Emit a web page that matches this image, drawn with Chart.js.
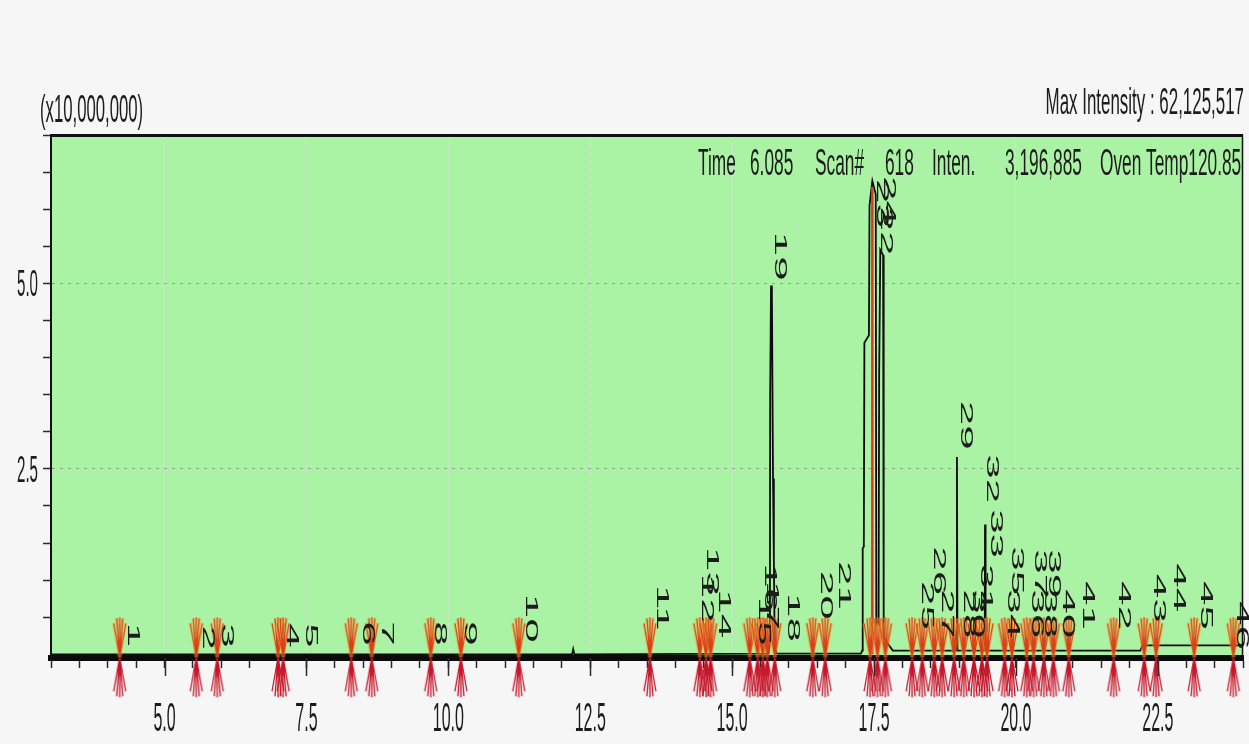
<!DOCTYPE html>
<html>
<head>
<meta charset="utf-8">
<title>TIC chromatogram</title>
<script src="https://cdn.jsdelivr.net/npm/chart.js@4/dist/chart.umd.min.js"></script>
<style>
  html, body { margin: 0; padding: 0; background: #f6f6f6; }
  #tic { display: block; }
</style>
</head>
<body>
<canvas id="tic" width="1249" height="744"></canvas>
<script>
// total ion chromatogram, retention time (min) vs intensity (x10,000,000)
const traceTimes  = [3.0, 12.18, 12.2, 12.22, 15.64, 15.665, 15.67, 15.685, 15.70, 15.72, 15.735, 15.75, 15.78,
                     17.27, 17.29, 17.30, 17.32, 17.33, 17.41, 17.42, 17.47, 17.53, 17.54, 17.58, 17.59, 17.61,
                     17.66, 17.67, 17.83, 18.955, 18.96, 18.97, 19.45, 19.455, 19.465, 22.19, 22.23, 24.0];
const traceIntens = [0.0, 0.0, 0.07, 0.0, 0.01, 0.15, 3.5, 4.97, 4.9, 2.37, 1.26, 0.1, 0.01,
                     0.01, 0.05, 1.43, 1.45, 4.2, 4.3, 6.05, 6.38, 6.2, 0.4, 0.4, 3.77, 5.45,
                     5.38, 0.22, 0.05, 0.05, 2.66, 0.05, 0.05, 1.75, 0.05, 0.05, 0.12, 0.12];

// red cursor through the main peak
const cursorTimes  = [17.47, 17.47];
const cursorIntens = [0.0, 6.3];

// integration start / end markers
const markerTimes = [4.21, 5.56, 5.93, 7.00, 7.09, 8.29, 8.65, 9.69, 10.22, 11.24, 13.55,
                     14.43, 14.54, 14.62, 15.31, 15.45, 15.54, 15.62, 15.75, 16.42, 16.64,
                     17.43, 17.56, 17.70, 18.17, 18.35, 18.56, 18.70, 18.91, 19.08, 19.26,
                     19.40, 19.49, 19.80, 19.93, 20.19, 20.31, 20.49, 20.66, 20.93, 21.72,
                     22.26, 22.47, 23.14, 23.83];

// peak numbers and where each label ends (time, intensity)
const peakNumbers = ['1','2','3','4','5','6','7','8','9','10','11','12','13','14','15','16','17','18','19','20',
                     '21','22','23','24','25','26','27','28','29','30','31','32','33','34','35','36','37','38','39','40',
                     '41','42','43','44','45','46'];
const peakLabelTimes = [4.335, 5.669, 6.003, 7.144, 7.478, 8.478, 8.812, 9.743, 10.27, 11.358, 13.658, 14.449, 14.537,
                        14.747, 15.45, 15.555, 15.59, 15.96, 15.73, 16.556, 16.872, 17.60, 17.54, 17.66, 18.33, 18.54,
                        18.68, 19.07, 19.01, 19.22, 19.37, 19.47, 19.54, 19.84, 19.91, 20.26, 20.31, 20.49, 20.56,
                        20.82, 21.16, 21.79, 22.42, 22.77, 23.25, 23.88];
const peakLabelIntens = [0.07, 0.03, 0.06, 0.06, 0.06, 0.09, 0.09, 0.09, 0.09, 0.13, 0.29, 0.40, 0.76,
                         0.19, 0.09, 0.54, 0.30, 0.14, 5.01, 0.44, 0.57, 5.35, 5.72, 5.76, 0.30, 0.77,
                         0.19, 0.19, 2.73, 0.19, 0.53, 2.01, 1.27, 0.19, 0.77, 0.19, 0.73, 0.19, 0.73,
                         0.19, 0.30, 0.30, 0.40, 0.54, 0.30, 0.03];

// labelled axis ticks
const xLabelValues = [5.0, 7.5, 10.0, 12.5, 15.0, 17.5, 20.0, 22.5];
const yLabelValues = [2.5, 5.0];

// header texts
const axisMultiplier = '(x10,000,000)';
const maxIntensityText = 'Max Intensity : 62,125,517';
const cursorInfo = ['Time', '6.085', 'Scan#', '618', 'Inten.', '3,196,885', 'Oven Temp120.85'];

const FONT = '"Liberation Sans", Arial, sans-serif';
const INK = '#1c1c1c';

function isLabelled(v, list) {
  return list.some(l => Math.abs(l - v) < 1e-6);
}

// the original image is squeezed sideways, so text is drawn narrow
function squeezed(ctx, txt, x, y, size, sx, opt = {}) {
  ctx.save();
  ctx.translate(x, y);
  ctx.scale(sx, 1);
  if (opt.rotate) ctx.rotate(opt.rotate);
  ctx.font = size + 'px ' + FONT;
  ctx.fillStyle = opt.color || INK;
  ctx.textAlign = opt.align || 'left';
  ctx.textBaseline = opt.baseline || 'alphabetic';
  ctx.fillText(txt, 0, 0);
  ctx.restore();
}

function makeMarker() {
  const c = document.createElement('canvas');
  c.width = 16;
  c.height = 82;
  const g = c.getContext('2d');
  const cx = 8, cy = 41;
  const arms = [[0, 40], [6, 34], [3, 39]];
  const spokes = (sign, color, w) => {
    g.strokeStyle = color;
    g.lineWidth = w;
    g.beginPath();
    arms.forEach(([dx, dy]) => {
      g.moveTo(cx, cy); g.lineTo(cx + dx, cy + sign * dy);
      if (dx) { g.moveTo(cx, cy); g.lineTo(cx - dx, cy + sign * dy); }
    });
    g.stroke();
  };
  spokes(-1, 'rgba(255,185,50,0.4)', 4);
  spokes(-1, '#d8401c', 1.3);
  spokes(1, '#c41428', 1.3);
  return c;
}

const chromPlugin = {
  id: 'chrom',
  beforeDraw(chart) {
    const { ctx, chartArea: a } = chart;
    ctx.save();
    ctx.fillStyle = '#f6f6f6';
    ctx.fillRect(0, 0, chart.width, chart.height);
    ctx.fillStyle = '#abf3a4';
    ctx.fillRect(a.left, a.top, a.right - a.left, a.bottom - a.top);
    ctx.restore();
  },
  afterDatasetsDraw(chart) {
    const { ctx } = chart;
    const xs = chart.scales.x, ys = chart.scales.y;
    peakNumbers.forEach((n, i) => {
      const px = xs.getPixelForValue(peakLabelTimes[i]);
      const py = ys.getPixelForValue(peakLabelIntens[i]);
      squeezed(ctx, n, px + 1, py - 2, 44, 0.38, { rotate: Math.PI / 2, align: 'right' });
    });
  },
  afterDraw(chart) {
    const { ctx, chartArea: a } = chart;
    const xs = chart.scales.x, ys = chart.scales.y;
    ctx.save();
    // frame: heavy top line, thin right edge
    ctx.strokeStyle = '#111';
    ctx.lineWidth = 3;
    ctx.beginPath();
    ctx.moveTo(a.left - 1, a.top + 0.5);
    ctx.lineTo(a.right, a.top + 0.5);
    ctx.stroke();
    ctx.lineWidth = 1.5;
    ctx.beginPath();
    ctx.moveTo(a.right - 0.5, a.top);
    ctx.lineTo(a.right - 0.5, a.bottom);
    ctx.stroke();
    // longer marks for the labelled x ticks
    ctx.strokeStyle = '#2a2a2a';
    xLabelValues.forEach(v => {
      const x = Math.round(xs.getPixelForValue(v)) + 0.5;
      ctx.beginPath();
      ctx.moveTo(x, a.bottom);
      ctx.lineTo(x, a.bottom + 18);
      ctx.stroke();
    });
    ctx.restore();

    xLabelValues.forEach(v => {
      squeezed(ctx, v.toFixed(1), xs.getPixelForValue(v), 731, 40, 0.4, { align: 'center' });
    });
    yLabelValues.forEach(v => {
      squeezed(ctx, v.toFixed(1), 38, ys.getPixelForValue(v) + 13, 36, 0.42, { align: 'right' });
    });

    squeezed(ctx, axisMultiplier, 40, 122, 38, 0.44);
    squeezed(ctx, maxIntensityText, 1244, 114, 36, 0.47, { align: 'right' });
    const cols = [698, 750, 815, 885, 932, 1005, 1100];
    cursorInfo.forEach((t, i) => squeezed(ctx, t, cols[i], 175, 36, 0.48));
  }
};

const markerImg = makeMarker();

new Chart(document.getElementById('tic'), {
  type: 'line',
  data: {
    datasets: [
      {
        label: 'TIC',
        data: traceTimes.map((t, i) => ({ x: t, y: traceIntens[i] })),
        borderColor: '#0b0b0b',
        borderWidth: 1.8,
        pointRadius: 0,
        tension: 0,
        order: 2
      },
      {
        label: 'cursor',
        data: cursorTimes.map((t, i) => ({ x: t, y: cursorIntens[i] })),
        borderColor: '#e0361c',
        borderWidth: 2.5,
        pointRadius: 0,
        order: 1
      },
      {
        label: 'markers',
        data: markerTimes.map(t => ({ x: t, y: -0.04 })),
        showLine: false,
        pointStyle: markerImg,
        pointRadius: 5,
        clip: false,
        order: 0
      }
    ]
  },
  options: {
    responsive: false,
    devicePixelRatio: 1,
    animation: false,
    events: [],
    layout: { padding: { top: 135, right: 2, left: 0, bottom: 0 } },
    plugins: { legend: { display: false }, tooltip: { enabled: false } },
    scales: {
      x: {
        type: 'linear',
        min: 3.0,
        max: 24.0,
        afterFit: s => { s.height = 86; },
        ticks: { stepSize: 0.5, autoSkip: false, display: false },
        grid: {
          color: c => isLabelled(c.tick.value, xLabelValues) ? 'rgba(214,226,214,0.95)' : 'rgba(0,0,0,0)',
          lineWidth: 1,
          tickColor: '#2a2a2a',
          tickLength: 10,
          tickWidth: 1.5,
          tickBorderDash: []
        },
        border: { display: true, color: '#0b0b0b', width: 6, dash: [4, 4] }
      },
      y: {
        type: 'linear',
        min: -0.05,
        max: 7.0,
        afterFit: s => { s.width = 51; },
        afterBuildTicks: s => { s.ticks = s.ticks.filter(t => t.value >= 0); },
        ticks: { stepSize: 0.5, autoSkip: false, display: false },
        grid: {
          color: c => isLabelled(c.tick.value, yLabelValues) ? 'rgba(130,150,130,0.85)' : 'rgba(0,0,0,0)',
          lineWidth: 1,
          tickColor: '#2a2a2a',
          tickLength: 8,
          tickWidth: 1.5,
          tickBorderDash: []
        },
        border: { display: true, color: '#111', width: 2, dash: [3, 5] }
      }
    }
  },
  plugins: [chromPlugin]
});
</script>
</body>
</html>
